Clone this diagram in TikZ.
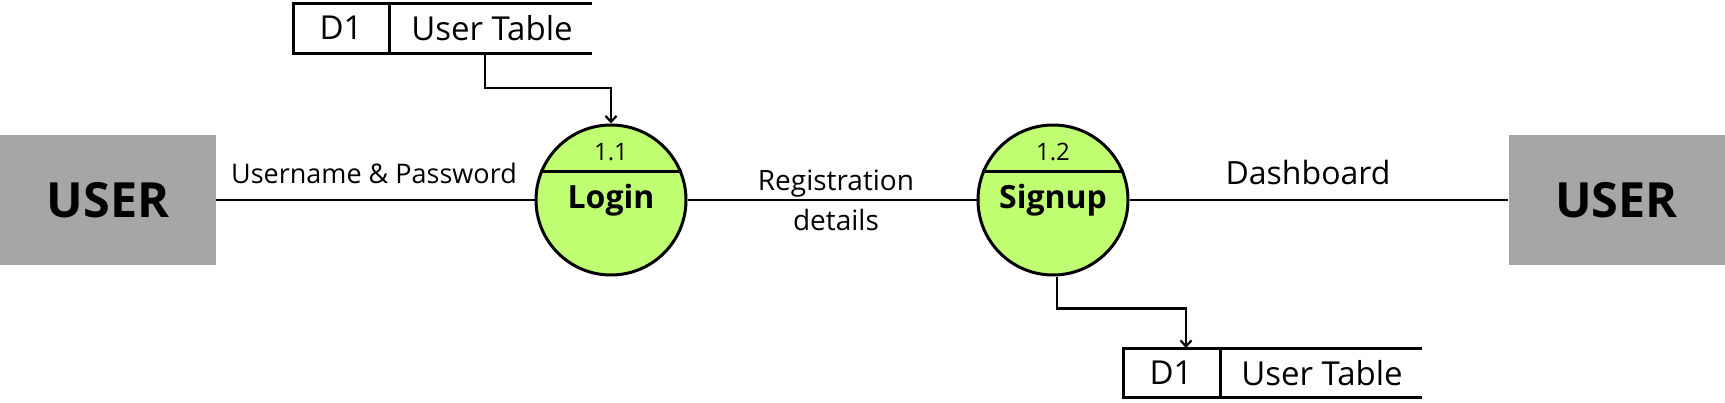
\documentclass[tikz,border=0pt]{standalone}
\usepackage{fontspec}
\setmainfont{Open Sans}
\usetikzlibrary{positioning,arrows.meta}
\definecolor{usergray}{HTML}{A6A6A6}
\definecolor{procgreen}{HTML}{C1FF72}
\tikzset{
  entity/.style={rectangle, fill=usergray, minimum width=216, minimum height=130, font=\fontsize{48.5}{52}\selectfont\bfseries},
  process/.style={circle, draw, line width=3, fill=procgreen, minimum size=150, inner sep=0, font=\fontsize{32}{36}\selectfont\bfseries},
  procid/.style={font=\fontsize{24}{28}\selectfont},
  flowlabel/.style={font=\fontsize{27}{38}\selectfont, align=center},
  storetext/.style={font=\fontsize{33}{36}\selectfont},
  store/.style={line width=3},
  flow/.style={line width=2.2},
  arrowflow/.style={line width=2.2, -{Straight Barb[length=6pt,width=11pt,line width=2.2pt]}}
}
\begin{document}
\begin{tikzpicture}[x=1pt,y=-1pt]
  \useasboundingbox (0,0) rectangle (1725,402);
  % external entities
  \node[entity] (userL) at (108,200) {USER};
  \node[entity] (userR) at (1616.5,200) {USER};
  % processes
  \node[process] (login) at (611,200) {Login};
  \node[process] (signup) at (1053,200) {Signup};
  \draw[line width=2.5] (login.158) -- (login.22);
  \draw[line width=2.5] (signup.158) -- (signup.22);
  \node[procid] (loginid) at (611,152) {1.1};
  \node[procid] (signupid) at (1053,152) {1.2};
  % data store, top
  \draw[store] (592,3) -- (293,3) -- (293,53) -- (592,53);
  \draw[store] (389,3) -- (389,53);
  \node[storetext] (d1top) at (341,28) {D1};
  \node[storetext] (tabletop) at (492,28) {User Table};
  \coordinate (topout) at (485,53);
  % data store, bottom
  \draw[store] (1422,348) -- (1123,348) -- (1123,397) -- (1422,397);
  \draw[store] (1220,348) -- (1220,397);
  \node[storetext] (d1bot) at (1171,373) {D1};
  \node[storetext] (tablebot) at (1322,373) {User Table};
  \coordinate (botin) at (1186,348);
  % flows
  \draw[flow] (userL) -- (login);
  \draw[flow] (login) -- (signup);
  \draw[flow] (signup) -- (userR);
  \draw[arrowflow] (topout) -- ++(0,35) -| (login.north);
  \draw[arrowflow] ([xshift=4]signup.south) -- ++(0,32) -| (botin);
  \node[flowlabel] (lblcred) at (374,173) {Username \& Password};
  \node[flowlabel, font=\fontsize{28}{40}\selectfont] (lblreg) at (836,200) {Registration\\details};
  \node[flowlabel, font=\fontsize{32}{36}\selectfont] (lbldash) at (1308,172) {Dashboard};
\end{tikzpicture}
\end{document}
